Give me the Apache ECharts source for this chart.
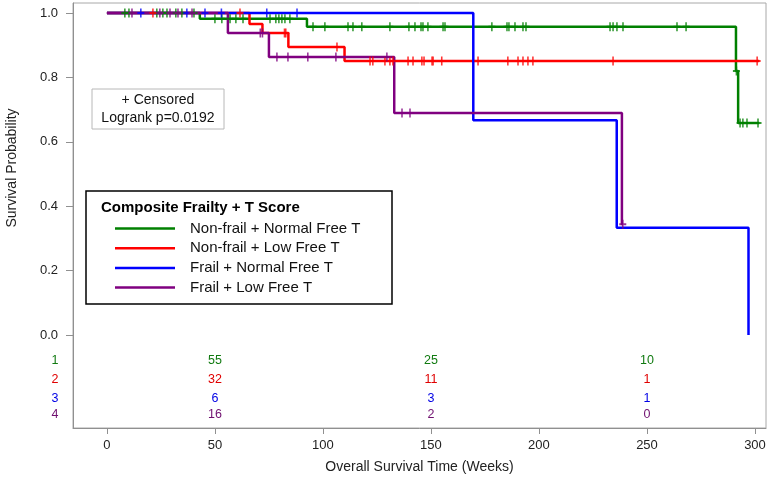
<!DOCTYPE html>
<html><head><meta charset="utf-8">
<script src="https://cdn.jsdelivr.net/npm/echarts@6/dist/echarts.min.js"></script>
<style>html,body{margin:0;padding:0;background:#fff}#c{width:770px;height:488px}</style>
</head><body><div id="c"></div>
<script>
// ---- data ----
const groupNames = ['Non-frail + Normal Free T', 'Non-frail + Low Free T', 'Frail + Normal Free T', 'Frail + Low Free T'];
const greenTimes = [0, 43, 92.6, 291.2, 292.2, 302];
const greenSurv  = [1, 0.982, 0.957, 0.820, 0.658, 0.658];
const redTimes   = [0, 66, 72, 84, 110, 302];
const redSurv    = [1, 0.966, 0.938, 0.894, 0.851, 0.851];
const blueTimes  = [0, 169.6, 236, 297];
const blueSurv   = [1, 0.667, 0.333, 0];
const purpleTimes = [0, 56, 75, 133, 238.4, 238.8];
const purpleSurv  = [1, 0.938, 0.863, 0.689, 0.344, 0.344];

const greenCensor = [8.3, 10.2, 23.1, 25.9, 27.8, 31.9, 34.7, 40.3, 50, 53.2, 57, 59.7, 63, 75.5, 78.2, 79.6, 81, 82.4, 84.7, 95.4, 100.9, 111.6, 113.9, 118, 131, 139.8, 142.6, 145.4, 146.3, 148.6, 155.6, 156.5, 178.2, 185.2, 186.1, 188.9, 192.6, 194, 232.9, 234.3, 236.1, 238.9, 263.9, 268.1, 291.4, 293.1, 294.4, 296.3, 301.4];
const redCensor = [21.3, 61.6, 82.2, 82.8, 106.5, 121.8, 123.1, 128.7, 131, 132.4, 139.4, 141.7, 145.8, 146.8, 150.5, 151, 155, 171.8, 185.6, 190.3, 192.6, 194.9, 197.2, 234.3, 301];
const blueCensor = [15.7, 37, 45.4, 53, 74, 88];
const purpleCensor = [11.6, 24.5, 29.2, 32.9, 39.4, 71, 72, 78.7, 83.8, 93, 106, 129.6, 136.6, 140.3, 238.8];

const atRiskTimes = [50, 150, 250];
const atRisk1 = [55, 25, 10];
const atRisk2 = [32, 11, 1];
const atRisk3 = [6, 3, 1];
const atRisk4 = [16, 2, 0];
const rowLabels = ['1', '2', '3', '4'];
const xTicks = [0, 50, 100, 150, 200, 250, 300];
const yTicks = [0, 0.2, 0.4, 0.6, 0.8, 1.0];

// ---- layout / style ----
const colors = ['#008000', '#ff0000', '#0000ff', '#800080'];
const textColors = ['#107a10', '#e00000', '#0000e6', '#701070'];
const rowY = [-0.081, -0.140, -0.196, -0.248];
const rowLabelX = -24;
const FONT = '"Liberation Sans", Arial, sans-serif';

const curves = [[greenTimes, greenSurv], [redTimes, redSurv], [blueTimes, blueSurv], [purpleTimes, purpleSurv]];
const censors = [greenCensor, redCensor, blueCensor, purpleCensor];
const atRisks = [atRisk1, atRisk2, atRisk3, atRisk4];

function survAt(times, surv, t) {
  let s = surv[0];
  for (let i = 0; i < times.length; i++) if (times[i] <= t) s = surv[i];
  return s;
}

const plus = 'path://M3.5,0h2v9h-2z M0,3.5h9v2h-9z';
const series = [];
curves.forEach((c, k) => {
  series.push({
    type: 'line', name: groupNames[k], step: 'end', symbol: 'none',
    data: c[0].map((t, i) => [t, c[1][i]]),
    color: colors[k], lineStyle: { width: 2.5, color: colors[k] },
    z: 2 + k, animation: false
  });
});
censors.forEach((m, k) => {
  series.push({
    type: 'scatter', name: 'cens' + k, symbol: plus, symbolSize: [7, 9],
    data: m.map(t => [t, survAt(curves[k][0], curves[k][1], t)]),
    itemStyle: { color: colors[k] }, z: 10 + k, animation: false, silent: true
  });
});
atRisks.forEach((vals, k) => {
  const d = atRiskTimes.map((t, i) => [t, rowY[k], String(vals[i])]);
  d.push([rowLabelX, rowY[k], rowLabels[k]]);
  series.push({
    type: 'scatter', name: 'risk' + k, symbol: 'circle', symbolSize: 2, clip: false,
    itemStyle: { color: 'rgba(255,255,255,0)' }, data: d, animation: false, silent: true,
    label: { show: true, position: 'inside', formatter: p => p.value[2], color: textColors[k], fontSize: 12.5, fontFamily: FONT, textBorderWidth: 0, textBorderColor: 'transparent', opacity: 1 },
    labelLayout: { hideOverlap: false }, z: 20
  });
});

const chart = echarts.init(document.getElementById('c'), null, { renderer: 'canvas' });
chart.setOption({
  animation: false,
  backgroundColor: '#fff',
  grid: { left: 73, right: 4, top: 3, bottom: 60, show: true, borderColor: '#a8a8a8', borderWidth: 1 },
  xAxis: {
    type: 'value', min: -15.7, max: 305.1,
    name: 'Overall Survival Time (Weeks)', nameLocation: 'middle', nameGap: 32,
    nameTextStyle: { fontSize: 14, color: '#222', fontFamily: FONT },
    axisLine: { show: true, onZero: false, lineStyle: { color: '#909090' } },
    axisTick: { show: true, length: 6, customValues: xTicks, lineStyle: { color: '#909090' } },
    axisLabel: { customValues: xTicks, margin: 11, fontSize: 13, color: '#222', fontFamily: FONT },
    splitLine: { show: false }
  },
  yAxis: {
    type: 'value', min: -0.289, max: 1.031,
    axisLine: { show: true, onZero: false, lineStyle: { color: '#909090' } },
    axisTick: { show: true, length: 7, customValues: yTicks, lineStyle: { color: '#909090' } },
    axisLabel: { customValues: yTicks, margin: 15, fontSize: 13, color: '#222', fontFamily: FONT, formatter: v => v.toFixed(1) },
    splitLine: { show: false }
  },
  legend: {
    data: groupNames, orient: 'vertical', left: 110, top: 215,
    icon: 'rect', itemWidth: 60, itemHeight: 2.5, itemGap: 2.7,
    textStyle: { fontSize: 15, color: '#111', fontFamily: FONT, lineHeight: 17, padding: [0, 0, 0, 10] },
    selectedMode: false
  },
  graphic: [
    { type: 'rect', shape: { x: 92, y: 89, width: 132, height: 40 }, style: { fill: '#fff', stroke: '#b8b8b8', lineWidth: 1 }, z: 5 },
    { type: 'text', x: 158, y: 100, style: { text: '+ Censored', fontSize: 14, fontFamily: FONT, fill: '#111', align: 'center', verticalAlign: 'middle' }, z: 6 },
    { type: 'text', x: 158, y: 118, style: { text: 'Logrank p=0.0192', fontSize: 14, fontFamily: FONT, fill: '#111', align: 'center', verticalAlign: 'middle' }, z: 6 },
    { type: 'rect', shape: { x: 86, y: 191, width: 306, height: 113 }, style: { fill: '#fff', stroke: '#000', lineWidth: 1.5 }, z: 1 },
    { type: 'text', x: 101, y: 208, style: { text: 'Composite Frailty + T Score', fontSize: 15, fontWeight: 'bold', fontFamily: FONT, fill: '#000', verticalAlign: 'middle' }, z: 6 },
    { type: 'text', x: 12, y: 168, rotation: Math.PI / 2, style: { text: 'Survival Probability', fontSize: 14, fontFamily: FONT, fill: '#222', align: 'center', verticalAlign: 'middle' }, z: 6 }
  ],
  series: series
});
</script></body></html>
